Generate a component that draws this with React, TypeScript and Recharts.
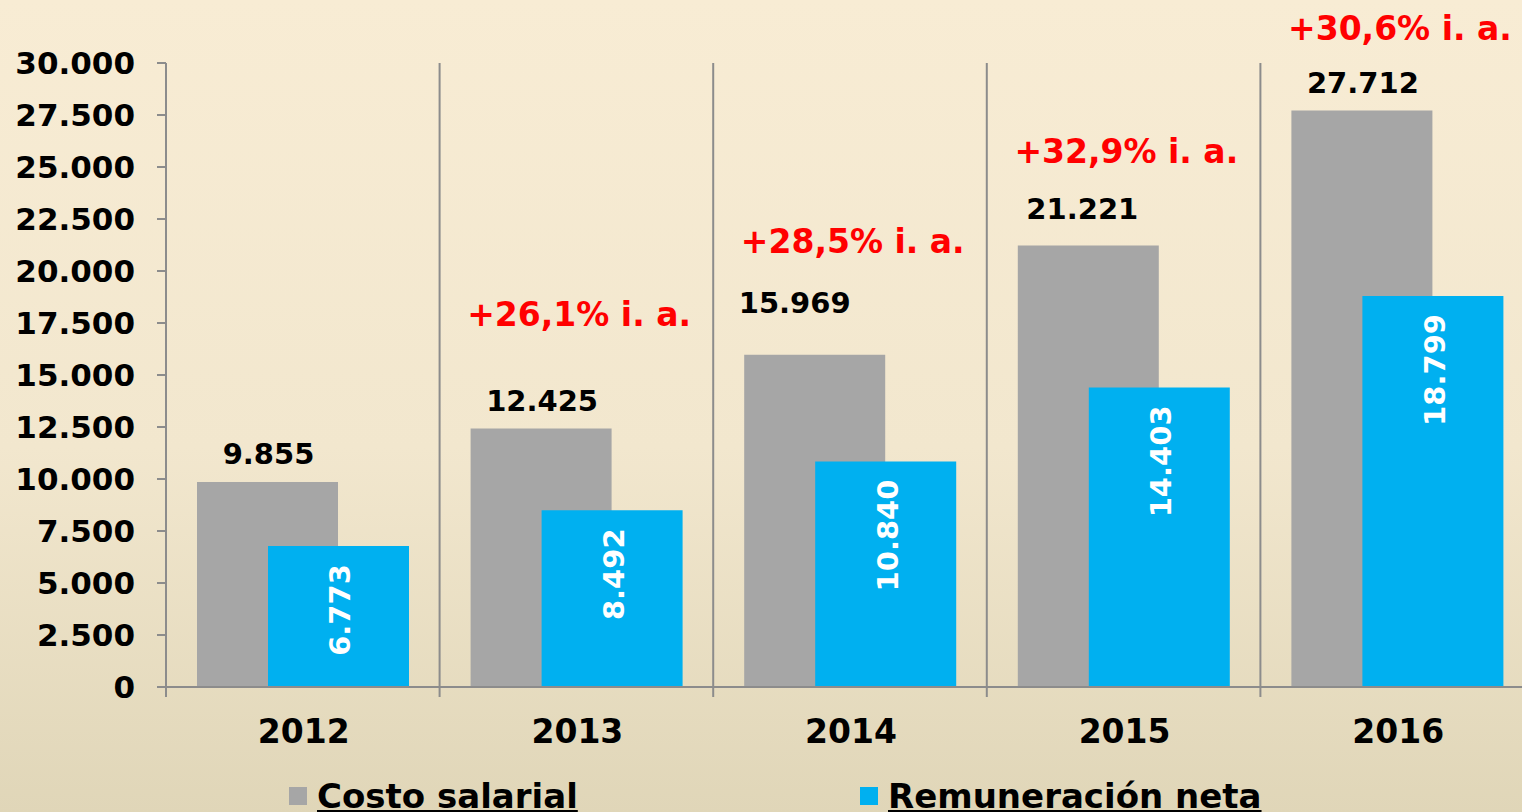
import { Bar, BarChart, CartesianGrid, LabelList, XAxis, YAxis } from "recharts";

// Costo salarial vs remuneración neta, promedio mensual en pesos
const YEARS = ["2012", "2013", "2014", "2015", "2016"];
const COSTO_SALARIAL = [9855, 12425, 15969, 21221, 27712];
const REMUNERACION_NETA = [6773, 8492, 10840, 14403, 18799];
const VARIACION = ["", "+26,1% i. a.", "+28,5% i. a.", "+32,9% i. a.", "+30,6% i. a."];
const Y_TICKS = [0, 2500, 5000, 7500, 10000, 12500, 15000, 17500, 20000, 22500, 25000, 27500, 30000];

const data = YEARS.map((year, i) => ({
  year,
  costo: COSTO_SALARIAL[i],
  neta: REMUNERACION_NETA[i],
}));

const FONT = "'DejaVu Sans', Verdana, sans-serif";
const GRAY = "#A6A6A6";
const BLUE = "#00B0F0";
const LINE = "#8C8C8C";

const WIDTH = 1540;
const HEIGHT = 812;
const MARGIN = { top: 63, right: 6, bottom: 0, left: 0 };
const Y_AXIS_W = 166;
const X_AXIS_H = 125;
const BAND = (WIDTH - MARGIN.right - MARGIN.left - Y_AXIS_W) / YEARS.length;

// the source labels were dragged by hand, so each one has its own lift
const COSTO_LIFT = [29, 29, 53, 38, 29];
const COSTO_DX = [1, 1, -20, -6, 1];
const VARIACION_LIFT = [0, 115, 114, 95, 83];

const fmt = (v: number) => String(v).replace(/\B(?=(\d{3})+(?!\d))/g, ".");

function box(props: any) {
  const vb = props.viewBox ?? {};
  return {
    x: Number(props.x ?? vb.x),
    y: Number(props.y ?? vb.y),
    width: Number(props.width ?? vb.width),
  };
}

function CostoLabel(props: any) {
  const { x, y, width } = box(props);
  const value = Number(props.value);
  const i = typeof props.index === "number" ? props.index : COSTO_SALARIAL.indexOf(value);
  const tag = VARIACION[i];
  return (
    <g>
      <text
        x={x + width / 2 + COSTO_DX[i]}
        y={y - COSTO_LIFT[i] + 11}
        textAnchor="middle"
        fontFamily={FONT}
        fontWeight="bold"
        fontSize={29}
        fill="#000"
      >
        {fmt(value)}
      </text>
      {tag ? (
        <text
          x={x + width / 2 + 38}
          y={y - VARIACION_LIFT[i] + 12}
          textAnchor="middle"
          fontFamily={FONT}
          fontWeight="bold"
          fontSize={33}
          fill="#FF0000"
        >
          {tag}
        </text>
      ) : null}
    </g>
  );
}

function NetaLabel(props: any) {
  const { x, y, width } = box(props);
  const px = x + width / 2 + 12;
  const py = y + 18;
  return (
    <text
      x={px}
      y={py}
      transform={`rotate(-90 ${px} ${py})`}
      textAnchor="end"
      fontFamily={FONT}
      fontWeight="bold"
      fontSize={29}
      fill="#FFFFFF"
    >
      {fmt(Number(props.value))}
    </text>
  );
}

function YearTick(props: any) {
  const { x, y, payload } = props;
  const edge = x - BAND / 2;
  return (
    <g>
      <line x1={edge} y1={y} x2={edge} y2={y + 10} stroke={LINE} strokeWidth={2} />
      <text
        x={x + 1}
        y={y + 56}
        textAnchor="middle"
        fontFamily={FONT}
        fontWeight="bold"
        fontSize={33}
        fill="#000"
      >
        {payload.value}
      </text>
    </g>
  );
}

const LEGEND = [
  { name: "Costo salarial", color: GRAY, left: 289 },
  { name: "Remuneración neta", color: BLUE, left: 860 },
];

export default function App() {
  return (
    <div
      style={{
        position: "fixed",
        left: 0,
        top: 0,
        width: 1522,
        height: 812,
        overflow: "hidden",
        background: "linear-gradient(180deg, #F8ECD4 0%, #F2E7CE 55%, #E0D6B8 100%)",
      }}
    >
      <BarChart
        width={WIDTH}
        height={HEIGHT}
        data={data}
        margin={MARGIN}
        barSize={141}
        barGap={-70}
      >
        <CartesianGrid
          horizontal={false}
          stroke={LINE}
          strokeWidth={2}
          verticalCoordinatesGenerator={({ offset }: any) =>
            YEARS.slice(1).map((_, i) => offset.left + (i + 1) * (offset.width / YEARS.length))
          }
        />
        <XAxis
          dataKey="year"
          height={X_AXIS_H}
          axisLine={{ stroke: LINE, strokeWidth: 2 }}
          tickLine={false}
          tickSize={0}
          tickMargin={0}
          tick={<YearTick />}
          interval={0}
        />
        <YAxis
          width={Y_AXIS_W}
          domain={[0, 30000]}
          ticks={Y_TICKS}
          interval={0}
          tickFormatter={fmt}
          axisLine={{ stroke: LINE, strokeWidth: 2 }}
          tickLine={{ stroke: LINE, strokeWidth: 2 }}
          tickSize={9}
          tickMargin={22}
          tick={{ fill: "#000", fontSize: 31, fontWeight: "bold", fontFamily: FONT }}
        />
        <Bar dataKey="costo" name="Costo salarial" fill={GRAY} isAnimationActive={false}>
          <LabelList dataKey="costo" content={<CostoLabel />} />
        </Bar>
        <Bar dataKey="neta" name="Remuneración neta" fill={BLUE} isAnimationActive={false}>
          <LabelList dataKey="neta" content={<NetaLabel />} />
        </Bar>
      </BarChart>
      {LEGEND.map((item) => (
        <div
          key={item.name}
          style={{
            position: "absolute",
            top: 776,
            left: item.left,
            display: "flex",
            alignItems: "center",
            fontFamily: FONT,
            fontWeight: "bold",
            fontSize: 34,
            whiteSpace: "nowrap",
          }}
        >
          <span style={{ width: 18, height: 18, background: item.color, marginRight: 10 }} />
          <span style={{ textDecoration: "underline" }}>{item.name}</span>
        </div>
      ))}
    </div>
  );
}
